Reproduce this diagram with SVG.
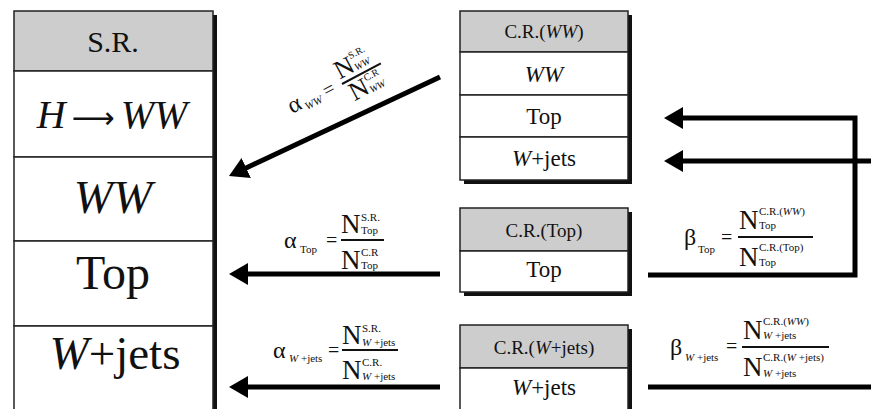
<svg xmlns="http://www.w3.org/2000/svg" width="871" height="409" viewBox="0 0 871 409">
<style>
text{font-family:"Liberation Serif","Times New Roman",serif;fill:#111}
.i{font-style:italic}
.box{fill:#fff;stroke:#222;stroke-width:1.5}
.hdr{fill:#cdcdcd;stroke:#222;stroke-width:1.5}
.sh{fill:#111}
.c{text-anchor:middle}
.bar{stroke:#111;stroke-width:2}
.f{font-size:24px}
.e{font-size:20px}
.N{font-size:27px}
.s{font-size:11px}
.arr{fill:none;stroke:#000;stroke-width:5;marker-end:url(#ah)}
.ln{fill:none;stroke:#000;stroke-width:5}
</style>
<defs>
<marker id="ah" viewBox="0 0 19 22" markerWidth="19" markerHeight="22" refX="3" refY="11" markerUnits="userSpaceOnUse" orient="auto">
<path d="M0,0 L19,11 L0,22 z" fill="#000"/>
</marker>
</defs>

<g id="sr">
<rect class="sh" x="17" y="15" width="200" height="400"/>
<rect class="hdr" x="14" y="11" width="199" height="60"/>
<rect class="box" x="14" y="71" width="199" height="86"/>
<rect class="box" x="14" y="157" width="199" height="84"/>
<rect class="box" x="14" y="241" width="199" height="85"/>
<rect class="box" x="14" y="326" width="199" height="90"/>
<text class="c" x="113" y="52" font-size="30">S.R.</text>
<text class="c i" x="112" y="128" font-size="40">H<tspan dx="6" font-family="'DejaVu Sans',sans-serif" font-style="normal" font-size="30">⟶</tspan><tspan dx="6">WW</tspan></text>
<text class="c i" x="113" y="213" font-size="47">WW</text>
<text class="c" x="113" y="289" font-size="48">Top</text>
<text class="c" x="115" y="369" font-size="47"><tspan class="i">W</tspan>+jets</text>
</g>

<g id="cr_ww">
<rect class="sh" x="464" y="15" width="168" height="169"/>
<rect class="hdr" x="460" y="11" width="168" height="41"/>
<rect class="box" x="460" y="52" width="168" height="43"/>
<rect class="box" x="460" y="95" width="168" height="42"/>
<rect class="box" x="460" y="137" width="168" height="43"/>
<text class="c" x="544" y="38" font-size="19">C.R.(<tspan class="i">WW</tspan>)</text>
<text class="c i" x="544" y="82" font-size="23">WW</text>
<text class="c" x="544" y="124" font-size="23">Top</text>
<text class="c" x="544" y="166" font-size="23"><tspan class="i">W</tspan>+jets</text>
</g>

<g id="cr_top">
<rect class="sh" x="464" y="212" width="168" height="84"/>
<rect class="hdr" x="460" y="208" width="168" height="43"/>
<rect class="box" x="460" y="251" width="168" height="41"/>
<text class="c" x="544" y="237" font-size="19">C.R.(Top)</text>
<text class="c" x="544" y="277" font-size="23">Top</text>
</g>

<g id="cr_wjets">
<rect class="sh" x="464" y="329" width="168" height="90"/>
<rect class="hdr" x="460" y="325" width="168" height="43"/>
<rect class="box" x="460" y="368" width="168" height="50"/>
<text class="c" x="544" y="354" font-size="19">C.R.(<tspan class="i">W</tspan>+jets)</text>
<text class="c" x="544" y="395" font-size="23"><tspan class="i">W</tspan>+jets</text>
</g>

<g id="connectors">
<line class="arr" x1="440" y1="77" x2="243.5" y2="169.2"/>
<line class="arr" x1="440" y1="274" x2="245" y2="274"/>
<line class="arr" x1="440" y1="387" x2="245" y2="387"/>
<polyline class="arr" points="648,275 855,275 855,118 680,118"/>
<line class="arr" x1="871" y1="161" x2="680" y2="161"/>
<line class="ln" x1="648" y1="387" x2="871" y2="387"/>
</g>

<g id="alpha_ww" transform="translate(342,84) rotate(-28)">
<text class="f" x="-58" y="3">α</text>
<text class="s i" x="-43" y="7">WW</text>
<text class="e" x="-20" y="5">=</text>
<line class="bar" x1="0" y1="0" x2="44" y2="0"/>
<text font-size="26" x="0" y="-5">N</text>
<text font-size="10" x="19" y="-18">S.R.</text>
<text font-size="10" class="i" x="19" y="-5">WW</text>
<text font-size="26" x="3" y="21">N</text>
<text font-size="10" x="22" y="9">C.R</text>
<text font-size="10" class="i" x="22" y="22">WW</text>
</g>

<g id="alpha_top">
<text class="f" x="284" y="248">α</text>
<text class="s" x="300" y="253">Top</text>
<text class="e" x="326" y="247">=</text>
<line class="bar" x1="341" y1="240" x2="384" y2="240"/>
<text class="N" x="341" y="233">N</text>
<text class="s" x="361" y="221">S.R.</text>
<text class="s" x="361" y="234">Top</text>
<text class="N" x="341" y="269">N</text>
<text class="s" x="361" y="256">C.R</text>
<text class="s" x="361" y="269">Top</text>
</g>

<g id="alpha_wjets">
<text class="f" x="273" y="358">α</text>
<text class="s" x="289" y="362"><tspan class="i">W</tspan> +jets</text>
<text class="e" x="328" y="357">=</text>
<line class="bar" x1="342" y1="350" x2="398" y2="350"/>
<text class="N" x="342" y="344">N</text>
<text class="s" x="362" y="332">S.R.</text>
<text class="s" x="362" y="346"><tspan class="i">W</tspan> +jets</text>
<text class="N" x="342" y="379">N</text>
<text class="s" x="362" y="366">C.R.</text>
<text class="s" x="362" y="380"><tspan class="i">W</tspan> +jets</text>
</g>

<g id="beta_top">
<text class="f" x="684" y="245">β</text>
<text class="s" x="698" y="253">Top</text>
<text class="e" x="721" y="244">=</text>
<line class="bar" x1="738" y1="237" x2="813" y2="237"/>
<text class="N" x="739" y="229">N</text>
<text class="s" x="759" y="215">C.R.(<tspan class="i">WW</tspan>)</text>
<text class="s" x="759" y="229">Top</text>
<text class="N" x="739" y="266">N</text>
<text class="s" x="759" y="251">C.R.(Top)</text>
<text class="s" x="759" y="266">Top</text>
</g>

<g id="beta_wjets">
<text class="f" x="670" y="355">β</text>
<text class="s" x="685" y="361"><tspan class="i">W</tspan> +jets</text>
<text class="e" x="726" y="353">=</text>
<line class="bar" x1="742" y1="347" x2="829" y2="347"/>
<text class="N" x="743" y="339">N</text>
<text class="s" x="763" y="325">C.R.(<tspan class="i">WW</tspan>)</text>
<text class="s" x="763" y="339"><tspan class="i">W</tspan> +jets</text>
<text class="N" x="743" y="376">N</text>
<text class="s" x="763" y="361">C.R.(<tspan class="i">W</tspan> +jets)</text>
<text class="s" x="763" y="377"><tspan class="i">W</tspan> +jets</text>
</g>
</svg>
